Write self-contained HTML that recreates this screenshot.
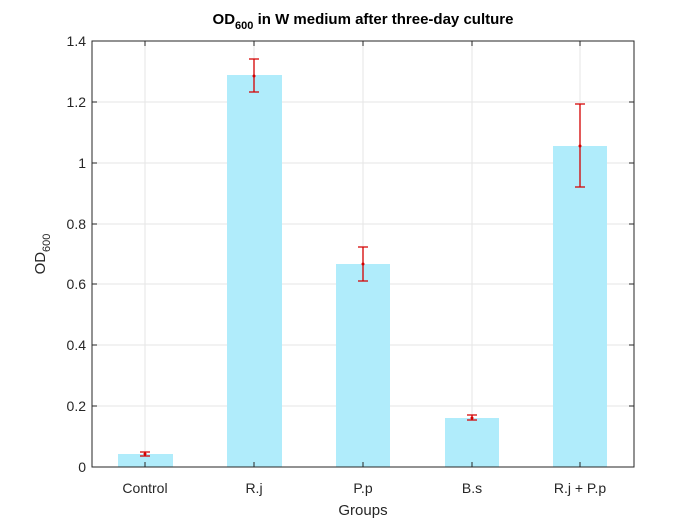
<!DOCTYPE html>
<html><head><style>body{margin:0;background:#fff}svg{display:block}</style></head><body>
<svg width="700" height="525" xmlns="http://www.w3.org/2000/svg" font-family="Liberation Sans, sans-serif">
<rect width="700" height="525" fill="#fff"/>
<g stroke="#e6e6e6" stroke-width="1">
<line x1="145" y1="41" x2="145" y2="467"/><line x1="254" y1="41" x2="254" y2="467"/><line x1="363" y1="41" x2="363" y2="467"/><line x1="472" y1="41" x2="472" y2="467"/><line x1="580" y1="41" x2="580" y2="467"/>
<line x1="92" y1="406" x2="634" y2="406"/><line x1="92" y1="345" x2="634" y2="345"/><line x1="92" y1="284" x2="634" y2="284"/><line x1="92" y1="224" x2="634" y2="224"/><line x1="92" y1="163" x2="634" y2="163"/><line x1="92" y1="102" x2="634" y2="102"/>
</g>
<g fill="#b0ecfb">
<rect x="118" y="454" width="55" height="13"/>
<rect x="227" y="75" width="55" height="392"/>
<rect x="336" y="264" width="54" height="203"/>
<rect x="445" y="418" width="54" height="49"/>
<rect x="553" y="146" width="54" height="321"/>
</g>
<g stroke="#d40000" stroke-width="1.3" fill="none">
<path d="M145 452V456M140 452H150M140 456H150"/>
<path d="M254 59V92M249 59H259M249 92H259"/>
<path d="M363 247V281M358 247H368M358 281H368"/>
<path d="M472 415V420M467 415H477M467 420H477"/>
<path d="M580 104V187M575 104H585M575 187H585"/>
</g>
<g fill="#d40000"><circle cx="145" cy="454" r="1.5"/><circle cx="254" cy="76" r="1.5"/><circle cx="363" cy="264" r="1.5"/><circle cx="472" cy="418" r="1.5"/><circle cx="580" cy="146" r="1.5"/></g>
<rect x="92" y="41" width="542" height="426" fill="none" stroke="#262626" stroke-width="1"/>
<g stroke="#262626">
<path d="M92 406h5M92 345h5M92 284h5M92 224h5M92 163h5M92 102h5M634 406h-5M634 345h-5M634 284h-5M634 224h-5M634 163h-5M634 102h-5"/>
<path d="M145 467v-5M254 467v-5M363 467v-5M472 467v-5M580 467v-5M145 41v5M254 41v5M363 41v5M472 41v5M580 41v5"/>
</g>
<g font-size="14" fill="#262626" text-anchor="end">
<text x="86" y="472">0</text><text x="86" y="411">0.2</text><text x="86" y="350">0.4</text><text x="86" y="289">0.6</text><text x="86" y="229">0.8</text><text x="86" y="168">1</text><text x="86" y="107">1.2</text><text x="86" y="46">1.4</text>
</g>
<g font-size="14" fill="#262626" text-anchor="middle">
<text x="145" y="493">Control</text><text x="254" y="493">R.j</text><text x="363" y="493">P.p</text><text x="472" y="493">B.s</text><text x="580" y="493">R.j + P.p</text>
<text x="363" y="515" font-size="15">Groups</text>
</g>
<text transform="translate(45,254) rotate(-90)" font-size="15" fill="#262626" text-anchor="middle">OD<tspan font-size="11" dy="5">600</tspan></text>
<text x="363" y="24" font-size="15" font-weight="bold" fill="#000" text-anchor="middle">OD<tspan font-size="11" dy="5">600</tspan><tspan dy="-5"> in W medium after three-day culture</tspan></text>
</svg>
</body></html>
